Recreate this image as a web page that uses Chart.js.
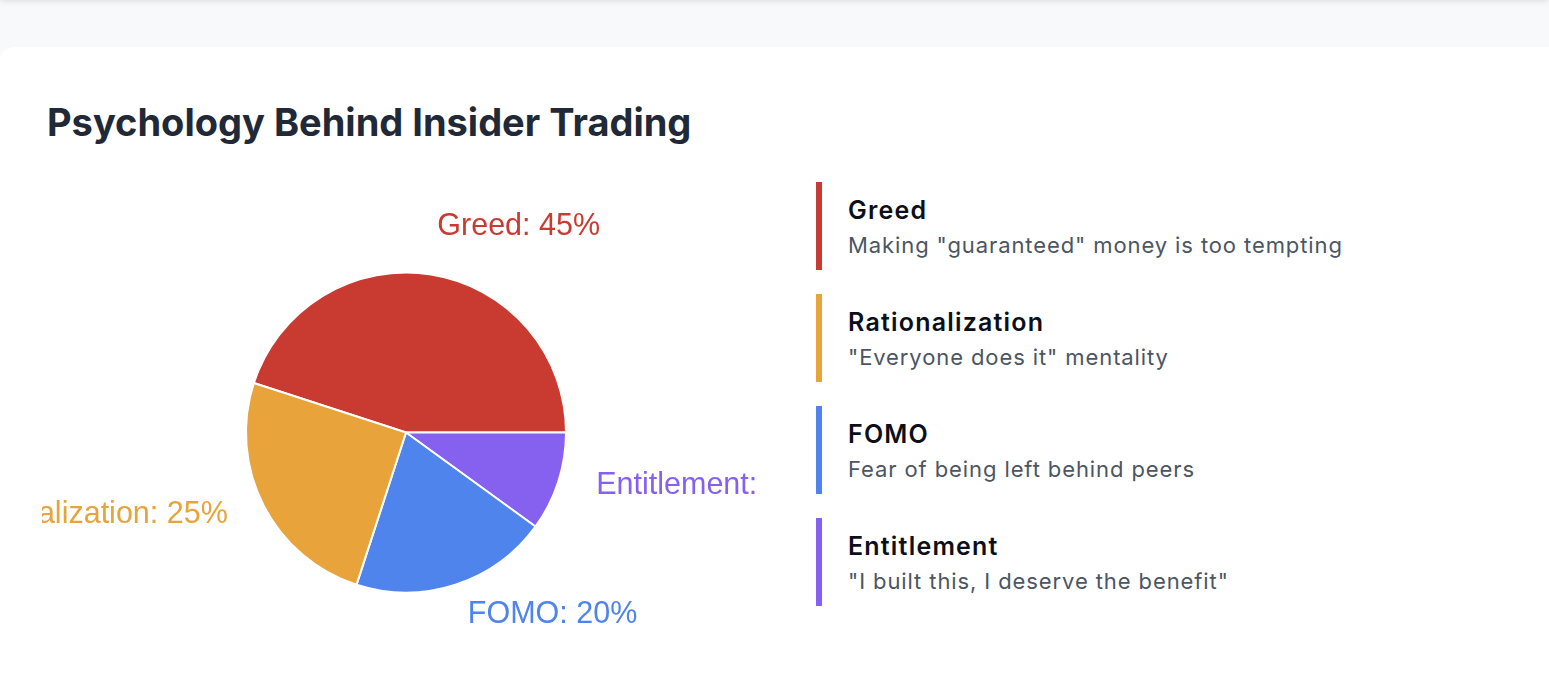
<!DOCTYPE html>
<html>
<head>
    <script src="https://cdn.jsdelivr.net/npm/chart.js"></script>
    <title>Psychology Behind Insider Trading</title>
    <style>
        html, body { margin: 0; padding: 0; }
        body {
            background: #f8f9fb;
            width: 1549px;
            height: 693px;
            overflow: hidden;
            position: relative;
            font-family: Inter, "Noto Sans", sans-serif;
        }
        .topbar {
            position: absolute; left: 0; top: -20px; width: 100%; height: 20px;
            box-shadow: 0 1px 6px rgba(0,0,0,0.12);
            background: #fff;
        }
        .card {
            position: absolute;
            left: 0; top: 47px;
            width: 1600px; height: 700px;
            background: #fff;
            border-radius: 14px;
            box-sizing: border-box;
            padding: 53px 0 0 47px;
        }
        h1 {
            margin: 0 0 36px 0;
            font-size: 38px;
            line-height: 45.6px;
            font-weight: 700;
            color: #1f2937;
        }
        .row { display: flex; align-items: flex-start; }
        .chartwrap { position: relative; width: 718px; height: 501px; margin-left: -5px; overflow: hidden; }
        .chartbox { position: absolute; left: 0; top: 0; width: 728px; height: 501px; }
        #legend { margin-left: 56px; }
        .item {
            border-left: 6px solid #ccc;
            padding: 10px 0 10px 26px;
            margin-bottom: 24px;
        }
        .item .name { font-size: 25px; line-height: 36px; font-weight: 600; color: #0b0f19; letter-spacing: 1.2px; }
        .item .desc { font-size: 22px; line-height: 30px; margin-top: 2px; color: #4b5563; letter-spacing: 0.9px; }
    </style>
</head>
<body>
    <div class="topbar"></div>
    <div class="card">
        <h1>Psychology Behind Insider Trading</h1>
        <div class="row">
            <div class="chartwrap"><div class="chartbox"><canvas id="motiveChart"></canvas></div></div>
            <div id="legend"></div>
        </div>
    </div>

    <script>
        // legend order
        const motives = ['Greed', 'Rationalization', 'FOMO', 'Entitlement'];
        const shares = [45, 25, 20, 10];
        const motiveColors = ['#c93a31', '#e8a33b', '#4f84ec', '#8660ef'];
        const descriptions = [
            'Making "guaranteed" money is too tempting',
            '"Everyone does it" mentality',
            'Fear of being left behind peers',
            '"I built this, I deserve the benefit"'
        ];
        // the pie goes round clockwise from greed: greed, entitlement, fomo, rationalization
        const pieOrder = [0, 3, 2, 1];

        function buildLegend() {
            const legend = document.getElementById('legend');
            motives.forEach((m, i) => {
                const item = document.createElement('div');
                item.className = 'item';
                item.style.borderLeftColor = motiveColors[i];
                const name = document.createElement('div');
                name.className = 'name';
                name.textContent = m;
                const desc = document.createElement('div');
                desc.className = 'desc';
                desc.textContent = descriptions[i];
                item.appendChild(name);
                item.appendChild(desc);
                legend.appendChild(item);
            });
        }

        // labels outside each slice, coloured like the slice
        const outsideLabels = {
            id: 'outsideLabels',
            afterDatasetsDraw(chart) {
                const ctx = chart.ctx;
                const meta = chart.getDatasetMeta(0);
                const ds = chart.data.datasets[0];
                ctx.save();
                ctx.font = '30.5px "Helvetica Neue", Helvetica, Arial, sans-serif';
                ctx.textBaseline = 'alphabetic';
                meta.data.forEach((arc, i) => {
                    const p = arc.getProps(['x', 'y', 'startAngle', 'endAngle', 'outerRadius'], true);
                    const mid = (p.startAngle + p.endAngle) / 2;
                    const r = p.outerRadius * 1.25;
                    const x = p.x + Math.cos(mid) * r;
                    const y = p.y + Math.sin(mid) * r;
                    ctx.textAlign = Math.cos(mid) >= 0 ? 'left' : 'right';
                    ctx.fillStyle = ds.backgroundColor[i];
                    ctx.fillText(chart.data.labels[i] + ': ' + ds.data[i] + '%', x, y);
                });
                ctx.restore();
            }
        };

        function displayChart() {
            const ctx = document.getElementById('motiveChart').getContext('2d');
            new Chart(ctx, {
                type: 'pie',
                data: {
                    labels: pieOrder.map(i => motives[i]),
                    datasets: [{
                        data: pieOrder.map(i => shares[i]),
                        backgroundColor: pieOrder.map(i => motiveColors[i]),
                        borderColor: '#ffffff',
                        borderWidth: 2
                    }]
                },
                options: {
                    responsive: true,
                    maintainAspectRatio: false,
                    animation: false,
                    rotation: 288,
                    radius: 160,
                    plugins: {
                        legend: { display: false },
                        tooltip: { enabled: false }
                    }
                },
                plugins: [outsideLabels]
            });
        }

        buildLegend();
        displayChart();
    </script>
</body>
</html>
